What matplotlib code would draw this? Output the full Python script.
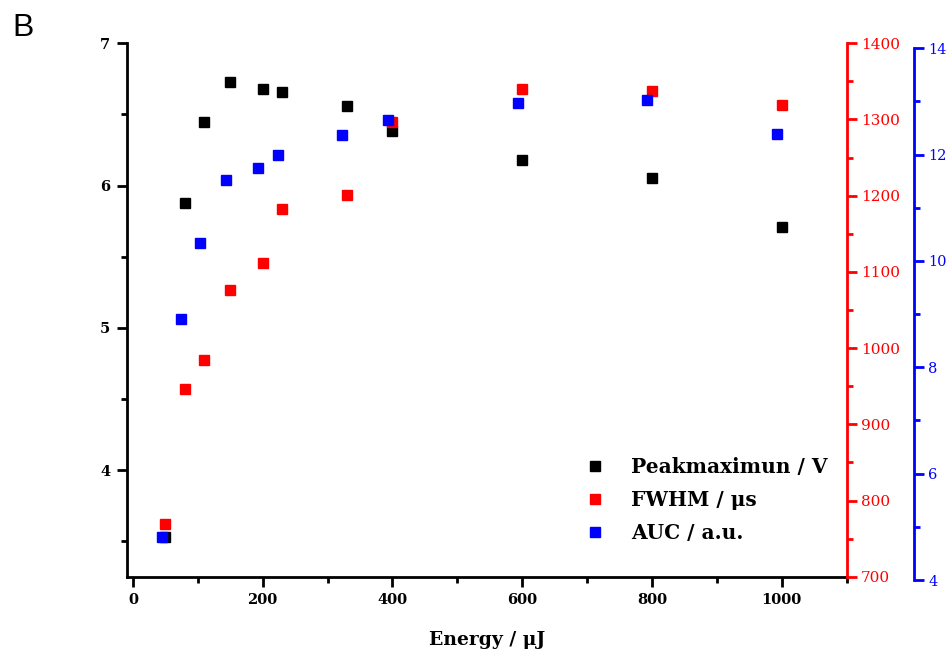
import matplotlib
matplotlib.use('Agg')
import matplotlib.pyplot as plt
from matplotlib.ticker import MultipleLocator
from matplotlib.lines import Line2D

# pulse energy (uJ) and the three measured quantities
energy      = [50, 80, 110, 150, 200, 230, 330, 400, 600, 800, 1000]
peak_max    = [3.53, 5.88, 6.45, 6.73, 6.68, 6.66, 6.56, 6.38, 6.18, 6.05, 5.71]
fwhm        = [769, 946, 985, 1076, 1112, 1182, 1201, 1297, 1340, 1338, 1319]
energy_auc  = [45, 74, 104, 144, 193, 224, 323, 393, 593, 792, 992]
auc         = [4.81, 8.90, 10.33, 11.52, 11.74, 11.99, 12.37, 12.65, 12.97, 13.02, 12.39]

SERIF = 'DejaVu Serif'
LW    = 2.0

fig = plt.figure(figsize=(9.53, 6.6), dpi=100)
pos = [0.1333, 0.1262, 0.7552, 0.8082]
ax  = fig.add_axes(pos)
ax2 = ax.twinx()
# AUC axis sits slightly lower than the others
ax3 = fig.add_axes([pos[0], 0.1212, pos[2], 0.8056])
ax3.patch.set_visible(False)

ax.plot(energy, peak_max, 's', color='black', ms=7, zorder=3)
ax2.plot(energy, fwhm, 's', color='#ff0000', ms=7, zorder=3)
ax3.plot(energy_auc, auc, 's', color='#0000ff', ms=7, zorder=3)

for a in (ax, ax2, ax3):
    a.set_xlim(-9, 1100)
ax.set_ylim(3.25, 7.0)
ax2.set_ylim(700, 1400)
ax3.set_ylim(4, 14)

# left axis and bottom axis
ax.spines['top'].set_visible(False)
ax.spines['right'].set_visible(False)
ax.spines['left'].set_linewidth(LW)
ax.spines['bottom'].set_linewidth(LW)
ax.xaxis.set_major_locator(MultipleLocator(200))
ax.xaxis.set_minor_locator(MultipleLocator(100))
ax.yaxis.set_major_locator(MultipleLocator(1))
ax.yaxis.set_minor_locator(MultipleLocator(0.5))
ax.tick_params(which='major', length=7, width=LW, direction='out', pad=5)
ax.tick_params(which='minor', length=4, width=LW, direction='out')
for lab in ax.get_xticklabels() + ax.get_yticklabels():
    lab.set_fontfamily(SERIF)
    lab.set_fontweight('bold')
    lab.set_fontsize(10.5)
ax.set_xlabel('Energy / μJ', fontfamily=SERIF, fontweight='bold', fontsize=13.5, labelpad=17)

# red FWHM axis on the right edge
for s in ('top', 'left', 'bottom'):
    ax2.spines[s].set_visible(False)
ax2.spines['right'].set_color('#ff0000')
ax2.spines['right'].set_linewidth(LW)
ax2.yaxis.set_major_locator(MultipleLocator(100))
ax2.yaxis.set_minor_locator(MultipleLocator(50))
ax2.tick_params(axis='y', which='major', length=7, width=LW, colors='#ff0000', pad=3)
ax2.tick_params(axis='y', which='minor', length=4, width=LW, colors='#ff0000')
for lab in ax2.get_yticklabels():
    lab.set_fontfamily(SERIF)
    lab.set_fontsize(11)

# blue AUC axis offset further right
for s in ('top', 'left', 'bottom'):
    ax3.spines[s].set_visible(False)
ax3.spines['right'].set_position(('axes', 1.094))
ax3.spines['right'].set_color('#0000ff')
ax3.spines['right'].set_linewidth(LW)
ax3.xaxis.set_visible(False)
ax3.yaxis.tick_right()
ax3.yaxis.set_major_locator(MultipleLocator(2))
ax3.yaxis.set_minor_locator(MultipleLocator(1))
ax3.tick_params(axis='y', which='major', length=7, width=LW, colors='#0000ff', pad=3)
ax3.tick_params(axis='y', which='minor', length=4, width=LW, colors='#0000ff')
for lab in ax3.get_yticklabels():
    lab.set_fontfamily(SERIF)
    lab.set_fontsize(10.5)

handles = [
    Line2D([], [], ls='none', marker='s', color='black', ms=7),
    Line2D([], [], ls='none', marker='s', color='#ff0000', ms=7),
    Line2D([], [], ls='none', marker='s', color='#0000ff', ms=7),
]
labels = ['Peakmaximun / V', 'FWHM / μs', 'AUC / a.u.']
ax3.legend(handles, labels, loc='upper left', bbox_to_anchor=(585 / 953, 1 - 457 / 660),
           bbox_transform=fig.transFigure, frameon=False, handlelength=1.0,
           handletextpad=1.3, labelspacing=0.64, borderpad=0, borderaxespad=0,
           prop={'family': SERIF, 'weight': 'bold', 'size': 14.5})

fig.text(12 / 953, 1 - 36 / 660, 'B', fontfamily='Liberation Sans', fontsize=23)

fig.savefig('out.png', dpi=100)
